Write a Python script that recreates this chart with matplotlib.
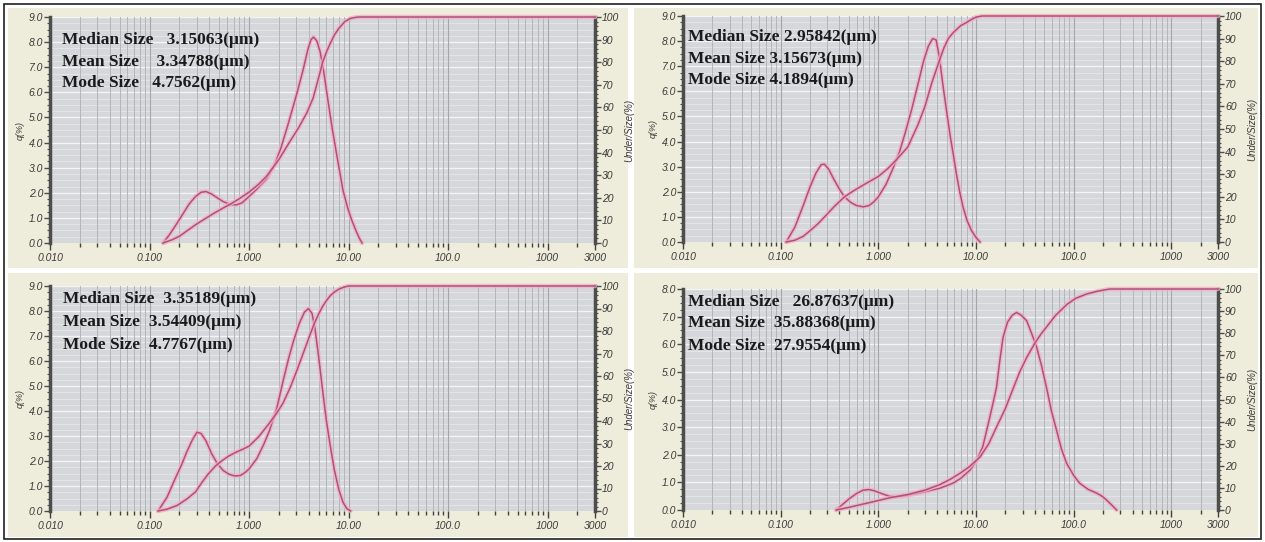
import matplotlib
matplotlib.use("Agg")
import matplotlib.pyplot as plt
from matplotlib.patches import Rectangle
from matplotlib.ticker import FixedLocator, LogLocator, NullFormatter, MultipleLocator

W, H = 1265, 542

# ---- data (x in um) ----
tl_q_x = [0.137, 0.16, 0.19, 0.22, 0.25, 0.29, 0.33, 0.37, 0.42, 0.48, 0.55, 0.65, 0.75,
          0.85, 1.0, 1.2, 1.5, 1.8, 2.1, 2.5, 3.0, 3.5, 3.9, 4.2, 4.45, 4.8, 5.2, 5.7,
          6.2, 6.9, 7.7, 8.8, 9.8, 10.8, 12.0, 13.0, 13.7]
tl_q_y = [0.0, 0.35, 0.8, 1.2, 1.55, 1.85, 2.02, 2.05, 1.95, 1.8, 1.65, 1.53, 1.52,
          1.6, 1.85, 2.15, 2.55, 3.1, 3.8, 4.8, 5.9, 6.9, 7.7, 8.1, 8.2, 8.05, 7.6, 6.7,
          5.7, 4.5, 3.4, 2.1, 1.4, 0.9, 0.45, 0.15, 0.0]
tl_cum_x = [0.137, 0.17, 0.2, 0.24, 0.3, 0.37, 0.45, 0.55, 0.65, 0.8, 1.0, 1.25, 1.5,
            2.0, 2.5, 3.15, 3.8, 4.4, 5.0, 5.5, 6.0, 6.5, 7.2, 8.0, 9.2, 10.5, 12, 13, 3000]
tl_cum_y = [0, 1.5, 3, 5.5, 8.5, 11, 13.3, 15.5, 17.2, 19.6, 22.5, 26, 29.5,
            37, 44, 51, 57.5, 64, 73, 80, 84.5, 88, 92, 95, 98, 99.4, 99.9, 100, 100]

tr_q_x = [0.114, 0.14, 0.17, 0.2, 0.23, 0.26, 0.28, 0.31, 0.35, 0.4, 0.45, 0.52, 0.6,
          0.7, 0.8, 0.9, 1.0, 1.2, 1.4, 1.65, 1.9, 2.2, 2.55, 2.9, 3.25, 3.6, 3.9, 4.2,
          4.6, 5.0, 5.4, 5.9, 6.3, 6.8, 7.35, 8.1, 9.0, 10.0, 11.0]
tr_q_y = [0.0, 0.6, 1.45, 2.2, 2.75, 3.08, 3.1, 2.9, 2.5, 2.1, 1.8, 1.58, 1.45,
          1.4, 1.45, 1.6, 1.8, 2.3, 2.9, 3.6, 4.4, 5.3, 6.3, 7.2, 7.8, 8.1, 8.05, 7.4,
          6.2, 5.2, 4.3, 3.4, 2.7, 2.0, 1.4, 0.85, 0.45, 0.18, 0.0]
tr_cum_x = [0.114, 0.14, 0.17, 0.2, 0.24, 0.28, 0.35, 0.45, 0.55, 0.72, 1.0, 1.25, 1.5,
            2.0, 2.55, 3.0, 3.5, 3.9, 4.27, 4.7, 5.2, 5.8, 6.3, 7.0, 7.9, 9.0, 10,
            11.5, 3000]
tr_cum_y = [0, 0.8, 2.5, 5, 8, 11, 15.5, 20, 22.5, 25.5, 29, 32.5, 36,
            42, 52, 60, 70, 76, 81, 86, 90, 92.5, 94, 95.8, 97, 98.5, 99.5,
            100, 100]

bl_q_x = [0.122, 0.15, 0.18, 0.21, 0.236, 0.27, 0.30, 0.33, 0.37, 0.42, 0.48, 0.55,
          0.63, 0.72, 0.82, 0.92, 1.0, 1.2, 1.4, 1.6, 1.9, 2.2, 2.5, 2.8, 3.2, 3.6,
          3.95, 4.3, 4.6, 5.0, 5.5, 6.0, 6.5, 7.2, 8.0, 8.8, 9.6, 10.5]
bl_q_y = [0.0, 0.55, 1.27, 1.85, 2.35, 2.85, 3.15, 3.1, 2.8, 2.3, 1.9, 1.62,
          1.47, 1.4, 1.42, 1.55, 1.68, 2.1, 2.65, 3.2, 4.1, 5.2, 6.1, 6.8, 7.5, 7.95,
          8.1, 7.9, 7.3, 6.2, 4.8, 3.6, 2.7, 1.65, 0.85, 0.35, 0.1, 0.0]
bl_cum_x = [0.122, 0.15, 0.19, 0.24, 0.29, 0.34, 0.39, 0.46, 0.54, 0.63, 0.73, 0.85,
            1.0, 1.25, 1.58, 1.9, 2.2, 2.6, 3.0, 3.5, 4.0, 4.5, 5.0, 5.5, 6.0, 6.5,
            7.2, 8.0, 9.0, 10.0, 3000]
bl_cum_y = [0, 0.8, 2.5, 5.5, 8.5, 13, 16.5, 20, 22.5, 24.5, 26, 27.3,
            28.8, 33, 38.7, 43.5, 48, 55, 62, 70, 77, 83, 87.5, 91, 93.5, 95.5,
            97.3, 98.6, 99.5, 100, 100]

br_q_x = [0.37, 0.43, 0.5, 0.6, 0.7, 0.8, 0.9, 1.0, 1.15, 1.3, 1.5, 1.7, 2.0, 2.5, 3.0,
          3.5, 4.27, 5.0, 5.8, 7.0, 8.65, 10, 11.7, 13.5, 15, 16.2, 17.5, 18.9, 21, 23.5,
          26, 29, 33, 37, 41.7, 47, 52.6, 59, 66.8, 75, 84.6, 100, 115, 140, 172, 195,
          217, 245, 275]
br_q_y = [0.0, 0.2, 0.4, 0.6, 0.72, 0.74, 0.7, 0.64, 0.56, 0.5, 0.48, 0.5, 0.53, 0.6, 0.66,
          0.72, 0.79, 0.88, 0.97, 1.15, 1.44, 1.75, 2.28, 3.2, 3.9, 4.44, 5.4, 6.25, 6.8, 7.05,
          7.15, 7.05, 6.85, 6.4, 5.9, 5.2, 4.44, 3.6, 2.88, 2.2, 1.69, 1.25, 0.97, 0.75, 0.61, 0.5,
          0.36, 0.18, 0.0]
br_cum_x = [0.37, 0.5, 0.75, 1.0, 1.3, 2.0, 3.0, 4.27, 5.5, 6.8, 8.5, 11, 13.5, 16, 20,
            24, 28, 33, 40, 46, 52, 65, 85, 105, 135, 175, 234, 3000]
br_cum_y = [0, 1.2, 3, 4.3, 5.5, 7, 9, 11.5, 14, 16.5, 19.5, 24, 30, 37, 46,
            55, 62.5, 69, 75.5, 79.5, 82.5, 88, 93, 95.8, 97.7, 99, 100, 100]

tl_stats = ["Median Size   3.15063(μm)", "Mean Size    3.34788(μm)", "Mode Size   4.7562(μm)"]
tr_stats = ["Median Size 2.95842(μm)", "Mean Size 3.15673(μm)", "Mode Size 4.1894(μm)"]
bl_stats = ["Median Size  3.35189(μm)", "Mean Size  3.54409(μm)", "Mode Size  4.7767(μm)"]
br_stats = ["Median Size   26.87637(μm)", "Mean Size  35.88368(μm)", "Mode Size  27.9554(μm)"]

x_major = [0.01, 0.1, 1, 10, 100, 1000, 3000]
x_major_labels = ["0.010", "0.100", "1.000", "10.00", "100.0", "1000", "3000"]

BEIGE = "#eeecda"
PLOT_BG = "#d5d7da"
DARK = "#4d4d4d"


def frac(x0, y0, x1, y1):
    return [x0 / W, 1 - y1 / H, (x1 - x0) / W, (y1 - y0) / H]


def draw_curve(ax, xs, ys):
    ax.plot(xs, ys, color="#efb0c5", lw=3.2, alpha=0.75, clip_on=False,
            solid_capstyle="round", solid_joinstyle="round", zorder=3)
    ax.plot(xs, ys, color="#b24f78", lw=1.1, clip_on=False,
            solid_joinstyle="round", zorder=4)


def style_labels(labels):
    for lab in labels:
        lab.set_fontfamily("Liberation Sans")
        lab.set_fontstyle("italic")
        lab.set_color("#3a3a3a")


fig = plt.figure(figsize=(W / 100, H / 100), dpi=100)
fig.patch.set_facecolor("white")

# outer black frame
fig.patches.append(Rectangle((4 / W, 1 - 539 / H), 1257 / W, 535 / H,
                             transform=fig.transFigure, facecolor="none",
                             edgecolor="#202020", lw=1.2, zorder=-5))

panels = [
    ((8, 8, 628, 268), (50, 17, 595, 243), 9.0, tl_q_x, tl_q_y, tl_cum_x, tl_cum_y,
     tl_stats, (62, [40, 62, 83])),
    ((634, 8, 1258, 268), (683, 16, 1218, 242), 9.0, tr_q_x, tr_q_y, tr_cum_x, tr_cum_y,
     tr_stats, (688, [37, 59, 80])),
    ((8, 273, 628, 537), (50, 286, 595, 511), 9.0, bl_q_x, bl_q_y, bl_cum_x, bl_cum_y,
     bl_stats, (63, [299, 322, 345])),
    ((634, 273, 1258, 537), (683, 289, 1218, 510), 8.0, br_q_x, br_q_y, br_cum_x, br_cum_y,
     br_stats, (688, [302, 323, 346])),
]

for box, axbox, qmax, qx, qy, cx, cy, stats, (tx, tys) in panels:
    bx0, by0, bx1, by1 = box
    fig.patches.append(Rectangle((bx0 / W, 1 - by1 / H), (bx1 - bx0) / W, (by1 - by0) / H,
                                 transform=fig.transFigure, facecolor=BEIGE,
                                 edgecolor="none", zorder=-10))

    ax = fig.add_axes(frac(*axbox))
    ax.set_facecolor(PLOT_BG)
    ax.set_xscale("log")
    ax.set_xlim(0.01, 3000)

    ax.xaxis.set_major_locator(FixedLocator(x_major))
    ax.set_xticklabels(x_major_labels)
    ax.xaxis.set_minor_locator(LogLocator(base=10, subs=range(2, 10)))
    ax.xaxis.set_minor_formatter(NullFormatter())
    qticks = [i * 1.0 for i in range(int(qmax) + 1)]
    ax.set_yticks(qticks)
    ax.set_yticklabels([f"{v:.1f}" for v in qticks])
    ax.yaxis.set_minor_locator(MultipleLocator(0.25))
    ax.set_ylim(0, qmax)

    # light horizontal rules under the vertical log grid
    for v in ax.yaxis.get_minorticklocs():
        ax.axhline(v, color="#e6e7e9", lw=0.6, zorder=0.1)
    for v in qticks[1:]:
        ax.axhline(v, color="#f4f4f4", lw=1.0, zorder=0.1)

    ax.grid(which="major", axis="x", color="#a4a6a9", lw=0.8)
    ax.grid(which="minor", axis="x", color="#b3b5b8", lw=0.7)
    ax.set_axisbelow(True)

    for side in ("top", "right", "bottom"):
        ax.spines[side].set_visible(False)
    ax.spines["left"].set_color(DARK)
    ax.spines["left"].set_linewidth(2.5)

    ax.tick_params(axis="x", which="major", length=5, width=1, color="#404040",
                   pad=2, labelsize=7.5)
    ax.tick_params(axis="x", which="minor", length=3, width=1, color="#404040")
    ax.tick_params(axis="y", which="major", length=4, width=1, color=DARK, pad=1,
                   labelsize=7.5)
    ax.tick_params(axis="y", which="minor", length=2.5, width=0.8, color=DARK)
    style_labels(ax.get_xticklabels() + ax.get_yticklabels())
    ax.set_ylabel("q(%)", fontsize=6.5, family="Liberation Sans", style="italic",
                  color="#3a3a3a", labelpad=3)

    ax2 = ax.twinx()
    ax2.set_ylim(0, 100)
    ax2.yaxis.set_major_locator(MultipleLocator(10))
    ax2.yaxis.set_minor_locator(MultipleLocator(2))
    for side in ("top", "left", "bottom"):
        ax2.spines[side].set_visible(False)
    ax2.spines["right"].set_color(DARK)
    ax2.spines["right"].set_linewidth(2.5)
    ax2.tick_params(axis="y", which="major", length=4, width=1, color=DARK, pad=1,
                    labelsize=7.5)
    ax2.tick_params(axis="y", which="minor", length=2.5, width=0.8, color=DARK)
    style_labels(ax2.get_yticklabels())
    ax2.set_ylabel("Under/Size(%)", fontsize=7, family="Liberation Sans",
                   style="italic", color="#3a3a3a", labelpad=4)

    draw_curve(ax, qx, qy)
    draw_curve(ax2, cx, cy)

    for s, ty in zip(stats, tys):
        fig.text(tx / W, 1 - ty / H, s, ha="left", va="center",
                 family="Liberation Serif", weight="bold", size=12.5, color="#1a1a1a")

fig.savefig("out.png", dpi=100, facecolor="white")
